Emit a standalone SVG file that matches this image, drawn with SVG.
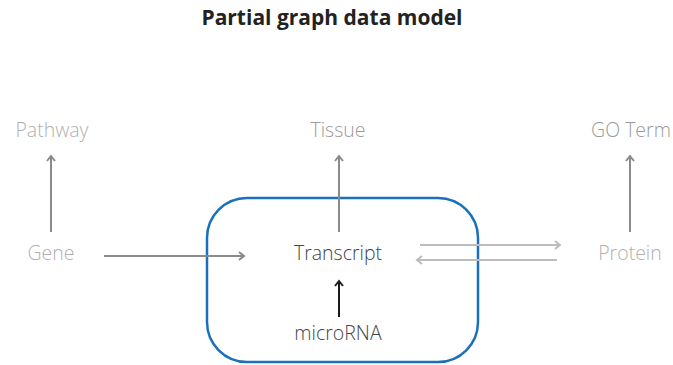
<svg xmlns="http://www.w3.org/2000/svg" width="673" height="365" viewBox="0 0 673 365">
  <defs>
    <marker id="head-mid" viewBox="0 0 10 10" refX="8" refY="5" markerWidth="10" markerHeight="10" markerUnits="userSpaceOnUse" orient="auto">
      <polyline points="3,1 8,5 3,9" fill="none" stroke="#8a8a8a" stroke-width="2"/>
    </marker>
    <marker id="head-light" viewBox="0 0 10 10" refX="8" refY="5" markerWidth="10" markerHeight="10" markerUnits="userSpaceOnUse" orient="auto">
      <polyline points="3,1 8,5 3,9" fill="none" stroke="#bdbdbd" stroke-width="2"/>
    </marker>
    <marker id="head-dark" viewBox="0 0 10 10" refX="8" refY="5" markerWidth="10" markerHeight="10" markerUnits="userSpaceOnUse" orient="auto">
      <polyline points="3,1 8,5 3,9" fill="none" stroke="#1a1a1a" stroke-width="2"/>
    </marker>
    <style>
      .title { font-family: "Open Sans", "Liberation Sans", sans-serif; font-weight: 700; font-size: 21px; fill: #222; }
      .lbl { font-family: "Open Sans", "Liberation Sans", sans-serif; font-weight: 300; font-size: 19.5px; text-anchor: middle; }
      .faint { fill: #b0b0b0; }
      .soft { fill: #9a9a9a; }
      .main { fill: #444; }
      .mid { stroke: #8a8a8a; stroke-width: 2; fill: none; marker-end: url(#head-mid); }
      .light { stroke: #bdbdbd; stroke-width: 2; fill: none; marker-end: url(#head-light); }
      .dark { stroke: #1a1a1a; stroke-width: 2; fill: none; marker-end: url(#head-dark); }
    </style>
  </defs>

  <rect width="673" height="365" fill="#fff"/>

  <text class="title" x="332" y="25" text-anchor="middle">Partial graph data model</text>

  <!-- container around the transcript layer -->
  <g id="transcript-layer">
    <rect x="207" y="198" width="271" height="164" rx="40" ry="40" fill="none" stroke="#1a70bb" stroke-width="2.5"/>
  </g>

  <g id="connectors">
    <line class="mid" x1="51" y1="232" x2="51" y2="156"/>
    <line class="mid" x1="339" y1="232" x2="339" y2="156"/>
    <line class="mid" x1="630" y1="232" x2="630" y2="156"/>
    <line class="mid" x1="104" y1="256" x2="244" y2="256"/>
    <line class="light" x1="420" y1="245" x2="560" y2="245"/>
    <line class="light" x1="557" y1="260" x2="417" y2="260"/>
    <line class="dark" x1="339" y1="317" x2="339" y2="281"/>
  </g>

  <g id="pathway"><text class="lbl faint" x="52" y="137">Pathway</text></g>
  <g id="tissue"><text class="lbl soft" x="338" y="137">Tissue</text></g>
  <g id="go-term"><text class="lbl soft" x="631" y="137">GO Term</text></g>
  <g id="gene"><text class="lbl faint" x="51" y="260">Gene</text></g>
  <g id="transcript"><text class="lbl main" x="338" y="260">Transcript</text></g>
  <g id="protein"><text class="lbl faint" x="630" y="260">Protein</text></g>
  <g id="microrna"><text class="lbl main" x="338" y="340">microRNA</text></g>
</svg>
